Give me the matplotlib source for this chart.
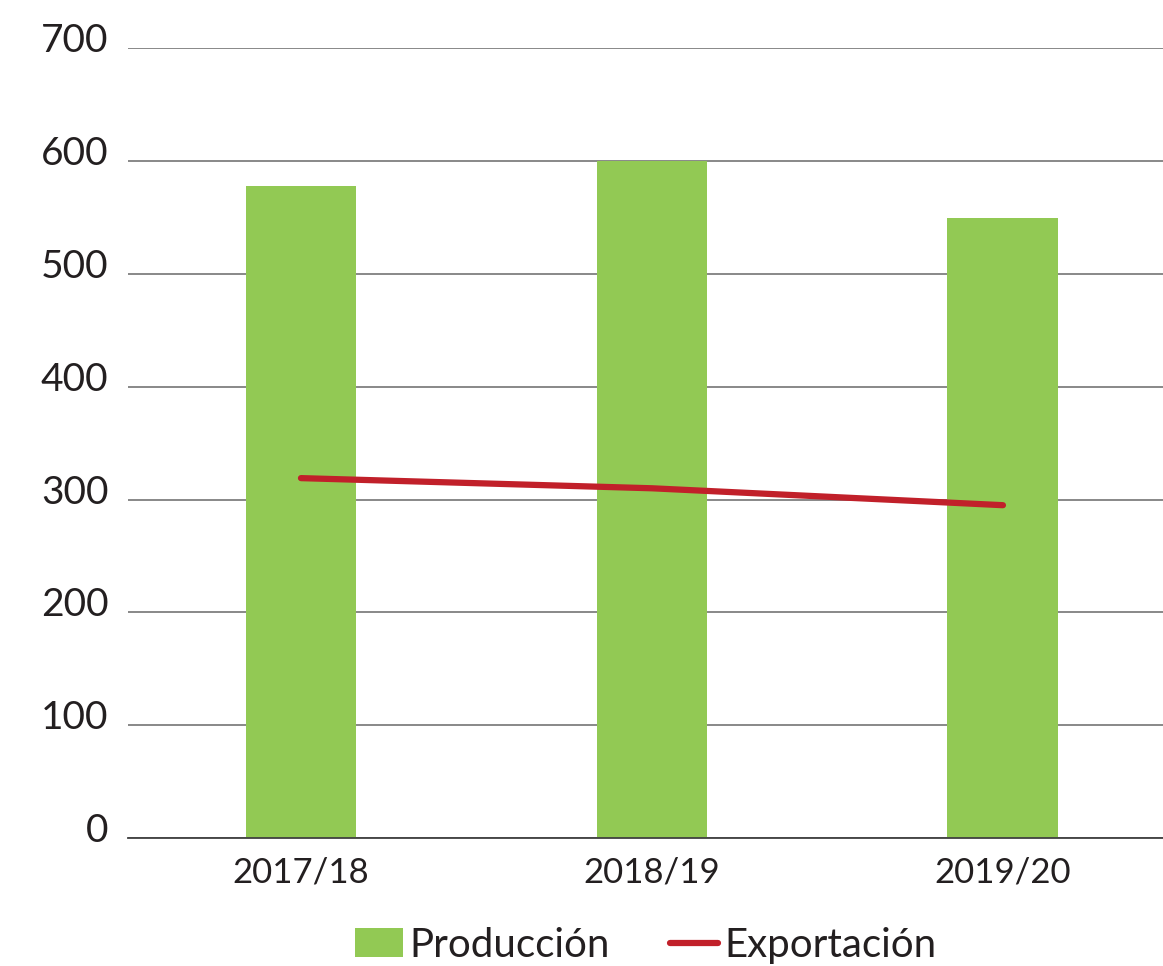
import numpy as np
import matplotlib.pyplot as plt
from matplotlib.transforms import ScaledTranslation

plt.rcParams['font.family'] = ['Lato', 'DejaVu Sans']

temporadas = ['2017/18', '2018/19', '2019/20']
produccion = [578, 600, 550]
exportacion = [319, 310, 295]

GREEN = '#92C954'
RED = '#C1202A'

fig = plt.figure(figsize=(11.63, 9.66), dpi=100)
ax = fig.add_axes([0.110, 0.1325, 0.890, 0.8175])

x = np.arange(len(temporadas))
bars = ax.bar(x, produccion, width=0.316, color=GREEN, label='Producción', zorder=2)
line, = ax.plot(x, exportacion, color=RED, linewidth=4.5, solid_capstyle='round',
                label='Exportación', zorder=3)

ax.set_ylim(0, 700)
ax.set_xlim(-0.493, 2.456)
ax.set_yticks(range(0, 701, 100))
ax.set_xticks(x)
ax.set_xticklabels(temporadas)
ax.yaxis.grid(True, color='#7f7f7f', linewidth=1.3, zorder=0)
ax.set_axisbelow(True)

for s in ['top', 'right', 'left']:
    ax.spines[s].set_visible(False)
ax.spines['bottom'].set_color('#404040')
ax.spines['bottom'].set_linewidth(1.3)
ax.tick_params(axis='both', length=0, colors='#231f20')
ax.tick_params(axis='y', pad=14, labelsize=28)
ax.tick_params(axis='x', pad=13, labelsize=25)
off = ScaledTranslation(0, -4 / 100, fig.dpi_scale_trans)
for lbl in ax.get_yticklabels():
    lbl.set_verticalalignment('baseline')
    lbl.set_transform(lbl.get_transform() + off)

ax.legend([bars, line], ['Producción', 'Exportación'], loc='lower center',
          bbox_to_anchor=(0.5, -0.205), ncol=2, frameon=False,
          fontsize=29, handlelength=1.2, handletextpad=0.15, columnspacing=1.5,
          labelcolor='#231f20')

fig.savefig('out.png', dpi=100)
